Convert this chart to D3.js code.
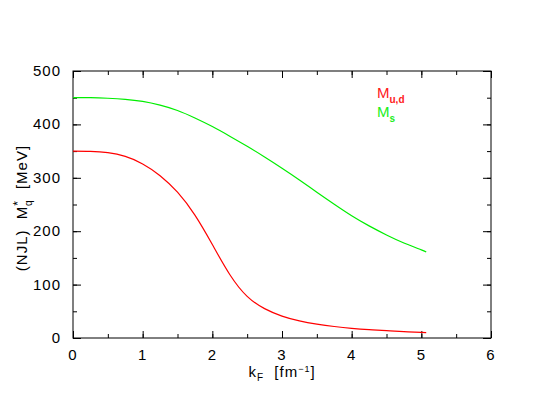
<!DOCTYPE html>
<html>
<head>
<meta charset="utf-8">
<script src="https://cdn.jsdelivr.net/npm/d3@7"></script>
<style>
  body { margin: 0; background: #fff; }
  text { font-family: "Liberation Sans", Arial, sans-serif; fill: #000; }
</style>
</head>
<body>
<script>
// Fermi momentum grid (fm^-1)
var kF = [0, 0.25, 0.5, 0.75, 1.0, 1.25, 1.5, 1.75, 2.0, 2.25, 2.5, 2.75,
          3.0, 3.25, 3.5, 3.75, 4.0, 4.25, 4.5, 4.75, 5.0, 5.07];
// effective quark masses (MeV)
var massUD = [350, 349.5, 347, 340, 326, 304, 273, 230, 175, 119, 78, 55,
              41, 32, 26, 21.5, 18, 15.5, 13.7, 12, 10.6, 10.2];
var massS = [450, 450, 449, 447, 443, 436, 426, 412, 396, 378, 359, 339,
             318, 296, 273, 250.5, 229, 210, 193, 178, 165, 161];
var xTicks = [0, 1, 2, 3, 4, 5, 6];
var yTicks = [0, 100, 200, 300, 400, 500];

const width = 538;
const height = 416;
const margin = {left: 73, right: 47, top: 71, bottom: 78};
const chartWidth = width - margin.left - margin.right;
const chartHeight = height - margin.top - margin.bottom;

var svg = d3.select('body').append('svg')
    .attr('width', width)
    .attr('height', height);

var xScale = d3.scaleLinear().domain([0, 6]).range([0, chartWidth]);
var yScale = d3.scaleLinear().domain([0, 500]).range([chartHeight, 0]);

var g = svg.append('g')
    .attr('transform', `translate(${margin.left}, ${margin.top})`);

var xMinor = d3.range(0, 6.01, 0.5);
var yMinor = d3.range(0, 501, 50);

// inward ticks on all four sides
function addTicks(axisFn, scale, values, len, transform) {
    g.append('g')
        .attr('transform', transform)
        .call(axisFn(scale).tickValues(values).tickSize(len).tickFormat(''))
        .call(s => s.select('.domain').remove())
        .call(s => s.selectAll('line').attr('stroke', '#000'));
}
addTicks(d3.axisBottom, xScale, xMinor, -4, `translate(0,${chartHeight})`);
addTicks(d3.axisBottom, xScale, xTicks, -7, `translate(0,${chartHeight})`);
addTicks(d3.axisTop, xScale, xMinor, -4, 'translate(0,0)');
addTicks(d3.axisTop, xScale, xTicks, -7, 'translate(0,0)');
addTicks(d3.axisLeft, yScale, yMinor, -4, 'translate(0,0)');
addTicks(d3.axisLeft, yScale, yTicks, -8, 'translate(0,0)');
addTicks(d3.axisRight, yScale, yMinor, -4, `translate(${chartWidth},0)`);
addTicks(d3.axisRight, yScale, yTicks, -8, `translate(${chartWidth},0)`);

// frame
g.append('rect')
    .attr('width', chartWidth)
    .attr('height', chartHeight)
    .attr('fill', 'none')
    .attr('stroke', '#000')
    .attr('stroke-width', 1);

// tick labels
g.selectAll('.xlab').data(xTicks).enter().append('text')
    .attr('x', d => xScale(d))
    .attr('y', chartHeight + 22)
    .attr('text-anchor', 'middle')
    .style('font-size', '15px')
    .style('letter-spacing', '1px')
    .text(d => d);

g.selectAll('.ylab').data(yTicks).enter().append('text')
    .attr('x', -12)
    .attr('y', d => yScale(d) + 5)
    .attr('text-anchor', 'end')
    .style('font-size', '15px')
    .style('letter-spacing', '1px')
    .text(d => d);

// curves
var line = d3.line()
    .x((d, i) => xScale(kF[i]))
    .y(d => yScale(d))
    .curve(d3.curveNatural);

g.append('path').datum(massS)
    .attr('d', line)
    .attr('fill', 'none')
    .attr('stroke', '#00ee00')
    .attr('stroke-width', 1.2);

g.append('path').datum(massUD)
    .attr('d', line)
    .attr('fill', 'none')
    .attr('stroke', '#ff0000')
    .attr('stroke-width', 1.2);

// x-axis title
var xt = svg.append('text')
    .attr('x', 282)
    .attr('y', 377)
    .attr('text-anchor', 'middle')
    .style('font-size', '15px')
    .style('letter-spacing', '1px');
xt.append('tspan').text('k');
xt.append('tspan').attr('dy', 4).style('font-size', '10px').text('F');
xt.append('tspan').attr('dy', -4).text('\u00a0\u00a0[fm');
xt.append('tspan').attr('dy', -5).style('font-size', '9px').text('\u22121');
xt.append('tspan').attr('dy', 5).text(']');

// y-axis title
var yt = svg.append('text')
    .attr('transform', 'translate(27, 208) rotate(-90)')
    .attr('text-anchor', 'middle')
    .style('font-size', '15px')
    .style('letter-spacing', '1px');
yt.append('tspan').text('(NJL)\u00a0\u00a0M');
yt.append('tspan').attr('dy', -5).style('font-size', '12px').text('*');
yt.append('tspan').attr('dx', -6).attr('dy', 10).style('font-size', '10px').text('q');
yt.append('tspan').attr('dy', -5).text('\u00a0\u00a0[MeV]');

// legend
var legend = [
    {name: 'M', sub: 'u,d', color: '#ff2020', y: 98},
    {name: 'M', sub: 's', color: '#20ee20', y: 117}
];
legend.forEach(function(l) {
    var t = svg.append('text')
        .attr('x', 377)
        .attr('y', l.y)
        .style('font-size', '15px')
        .style('fill', l.color);
    t.append('tspan').text(l.name);
    t.append('tspan').attr('dy', 5).style('font-size', '10px').style('font-weight', 'bold').text(l.sub);
});
</script>
</body>
</html>
